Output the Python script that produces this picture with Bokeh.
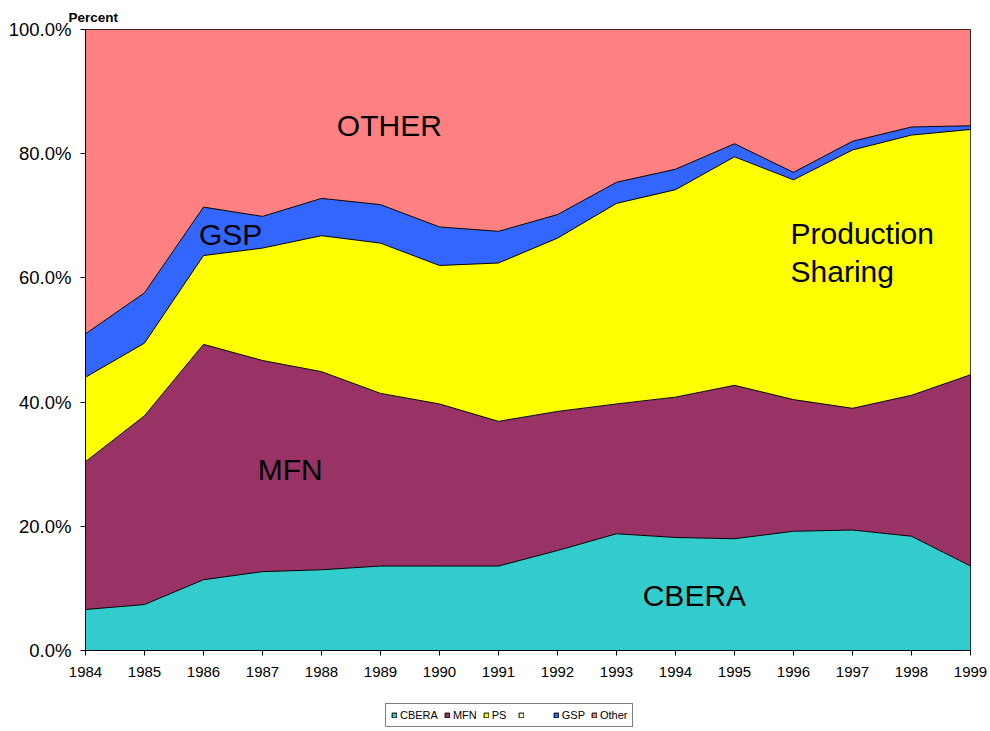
from bokeh.plotting import figure
from bokeh.layouts import column
from bokeh.models import (Legend, LegendItem, Label, NumeralTickFormatter, FixedTicker,
                          ColumnDataSource, Range1d)
from bokeh.embed import file_html
from bokeh.resources import INLINE

years = [1984, 1985, 1986, 1987, 1988, 1989, 1990, 1991,
         1992, 1993, 1994, 1995, 1996, 1997, 1998, 1999]
cbera = [6.6, 7.4, 11.4, 12.7, 13.0, 13.6, 13.6, 13.6, 16.1, 18.8, 18.2, 18.0, 19.2, 19.4, 18.4, 13.6]
mfn = [23.8, 30.4, 37.9, 34.0, 31.9, 27.8, 26.1, 23.3, 22.4, 20.9, 22.6, 24.7, 21.2, 19.6, 22.7, 30.8]
ps = [13.6, 11.7, 14.3, 18.1, 21.9, 24.2, 22.3, 25.5, 27.9, 32.3, 33.4, 36.8, 35.4, 41.6, 41.9, 39.5]
gsp = [7.0, 8.1, 7.8, 5.1, 6.0, 6.2, 6.2, 5.1, 3.8, 3.4, 3.3, 2.1, 1.2, 1.4, 1.3, 0.6]
other = [49.0, 42.4, 28.6, 30.1, 27.2, 28.2, 31.8, 32.5, 29.8, 24.6, 22.5, 18.4, 23.0, 18.0, 15.7, 15.5]

series_names = ["CBERA", "MFN", "PS", "GSP", "Other"]
series_values = [cbera, mfn, ps, gsp, other]
colors = ["#33CCCC", "#993366", "#FFFF00", "#3366FF", "#FF8080"]
legend_labels = ["CBERA", "MFN", "PS", "", "GSP", "Other"]
legend_colors = ["#33CCCC", "#993366", "#FFFF00", "#FFFFCC", "#3366FF", "#FF8080"]
y_ticks = [0.0, 0.2, 0.4, 0.6, 0.8, 1.0]

FONT = "Liberation Sans"
NAN = float("nan")

data = {"year": years}
for name, vals in zip(series_names, series_values):
    data[name] = [v / 100.0 for v in vals]
source = ColumnDataSource(data)

p = figure(width=990, height=690, output_backend="svg", toolbar_location=None,
           x_range=Range1d(years[0], years[-1]), y_range=Range1d(0, 1),
           min_border_left=85, min_border_right=20, min_border_top=29, min_border_bottom=40)

p.varea_stack(stackers=series_names, x="year", color=colors, source=source)

# boundary lines
cum = [0.0] * len(years)
for name in series_names[:-1]:
    cum = [c + v for c, v in zip(cum, data[name])]
    p.line(years, cum, line_color="black", line_width=1)

p.xgrid.visible = False
p.ygrid.visible = False
p.outline_line_color = "black"
p.outline_line_width = 1
p.background_fill_color = "white"
p.border_fill_color = "white"

p.yaxis.ticker = FixedTicker(ticks=y_ticks)
p.yaxis.formatter = NumeralTickFormatter(format="0.0%")
p.yaxis.minor_tick_line_color = None
p.yaxis.major_tick_out = 5
p.yaxis.major_tick_in = 0
p.yaxis.major_label_standoff = 9
p.yaxis.major_label_text_font = FONT
p.yaxis.major_label_text_font_size = "18.5px"
p.yaxis.major_label_text_color = "black"
p.yaxis.axis_line_color = "black"

p.xaxis.ticker = FixedTicker(ticks=years)
p.xaxis.minor_tick_line_color = None
p.xaxis.major_tick_out = 5
p.xaxis.major_tick_in = 0
p.xaxis.major_label_standoff = 11
p.xaxis.major_label_text_font = FONT
p.xaxis.major_label_text_font_size = "15px"
p.xaxis.major_label_text_color = "black"
p.xaxis.axis_line_color = "black"

p.title.text = "Percent"
p.title.align = "left"
p.title.offset = -17
p.title.text_font = FONT
p.title.text_font_size = "13.5px"
p.title.text_font_style = "bold"
p.title.text_color = "black"

# area labels
labels = [
    ("OTHER", 1989.15, 0.846, "center"),
    ("GSP", 1986.46, 0.670, "center"),
    ("MFN", 1987.47, 0.292, "center"),
    ("Production", 1995.95, 0.672, "left"),
    ("Sharing", 1995.95, 0.611, "left"),
    ("CBERA", 1994.32, 0.089, "center"),
]
for txt, x, y, al in labels:
    p.add_layout(Label(x=x, y=y, text=txt, text_align=al, text_baseline="alphabetic",
                       text_font=FONT, text_font_size="30px", text_color="black"))

# legend strip below the chart
p2 = figure(width=990, height=41, output_backend="svg", toolbar_location=None,
            x_range=Range1d(0, 1), y_range=Range1d(0, 1),
            min_border_left=0, min_border_right=0, min_border_top=0, min_border_bottom=0)
p2.axis.visible = False
p2.xgrid.visible = False
p2.ygrid.visible = False
p2.outline_line_color = None
p2.background_fill_color = "white"
p2.border_fill_color = "white"

items = []
for lab, col in zip(legend_labels, legend_colors):
    r = p2.quad(left=[NAN], right=[NAN], top=[NAN], bottom=[NAN], fill_color=col,
                line_color="black", line_width=1)
    items.append(LegendItem(label=lab if lab else " ", renderers=[r]))
legend = Legend(items=items, orientation="horizontal", location=(300, 4),
                label_text_font=FONT, label_text_font_size="11px", label_text_color="black",
                glyph_width=6, glyph_height=6, label_height=12,
                label_standoff=3, spacing=6, padding=5, margin=0,
                border_line_color="black", border_line_width=1,
                background_fill_color="white", background_fill_alpha=1.0)
p2.add_layout(legend, "center")

open("out.html", "w").write(file_html(column(p, p2, spacing=0), INLINE))
